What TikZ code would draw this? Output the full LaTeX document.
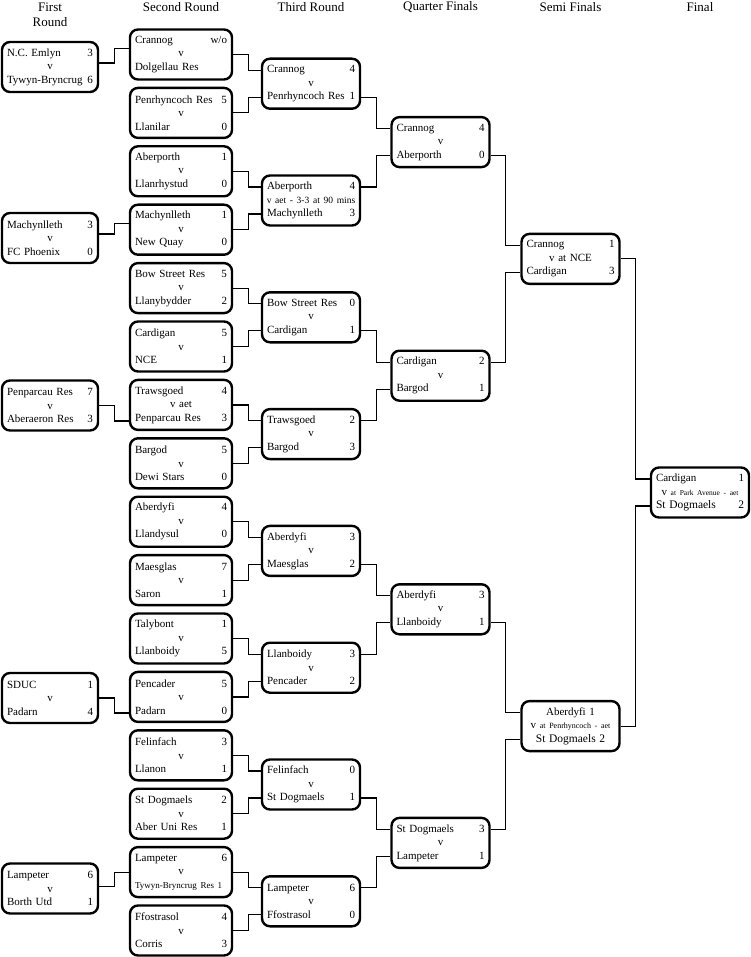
\documentclass[tikz,border=0pt]{standalone}
\usepackage{fontspec}
\setmainfont{Liberation Serif}
\usepackage{tikz}
\usetikzlibrary{calc}
\tikzstyle{tie} = [draw, line width=2.4pt, rounded corners=8pt, minimum height=50pt, inner xsep=5pt, inner ysep=0pt, text width=88pt, align=left, font=\fontsize{11}{13.5}\selectfont]
\tikzstyle{narrow} = [tie, text width=86pt]
\tikzstyle{wide} = [tie, text width=92pt]
\tikzstyle{link} = [line width=1.2pt]
\tikzstyle{heading} = [align=center, font=\fontsize{13}{15.5}\selectfont]
\newcommand{\fixture}[5]{#1\hfill#2\\\makebox[\linewidth]{#3}\\#4\hfill#5}

\begin{document}
\begin{tikzpicture}[x=1pt, y=-1pt]
\useasboundingbox (0,0) rectangle (750,957);

% round headings
\node[heading] (hfirst) at (50,15) {First\\Round};
\node[heading] (hsecond) at (181,7) {Second Round};
\node[heading] (hthird) at (311,7) {Third Round};
\node[heading] (hquarter) at (440.5,7) {Quarter Finals};
\node[heading] (hsemi) at (570.5,7) {Semi Finals};
\node[heading] (hfinal) at (700,7) {Final};

% first round
\node[narrow] (fr1) at (50,67) {\fixture{N.C. Emlyn}{3}{v}{Tywyn-Bryncrug}{6}};
\node[narrow] (fr2) at (50,238) {\fixture{Machynlleth}{3}{v}{FC Phoenix}{0}};
\node[narrow] (fr3) at (50,405.5) {\fixture{Penparcau Res}{7}{v}{Aberaeron Res}{3}};
\node[narrow] (fr4) at (50,698) {\fixture{SDUC}{1}{v}{Padarn}{4}};
\node[narrow] (fr5) at (50,888.5) {\fixture{Lampeter}{6}{v}{Borth Utd}{1}};

% second round
\node[wide] (sr1) at (181,54.5) {\fixture{Crannog}{w/o}{v}{Dolgellau Res}{}};
\node[wide] (sr2) at (181,112.9) {\fixture{Penrhyncoch Res}{5}{v}{Llanilar}{0}};
\node[wide] (sr3) at (181,171.3) {\fixture{Aberporth}{1}{v}{Llanrhystud}{0}};
\node[wide] (sr4) at (181,229.7) {\fixture{Machynlleth}{1}{v}{New Quay}{0}};
\node[wide] (sr5) at (181,288.1) {\fixture{Bow Street Res}{5}{v}{Llanybydder}{2}};
\node[wide] (sr6) at (181,346.5) {\fixture{Cardigan}{5}{v}{NCE}{1}};
\node[wide] (sr7) at (181,404.9) {\fixture{Trawsgoed}{4}{v aet}{Penparcau Res}{3}};
\node[wide] (sr8) at (181,463.3) {\fixture{Bargod}{5}{v}{Dewi Stars}{0}};
\node[wide] (sr9) at (181,521.7) {\fixture{Aberdyfi}{4}{v}{Llandysul}{0}};
\node[wide] (sr10) at (181,580.1) {\fixture{Maesglas}{7}{v}{Saron}{1}};
\node[wide] (sr11) at (181,638.5) {\fixture{Talybont}{1}{v}{Llanboidy}{5}};
\node[wide] (sr12) at (181,696.9) {\fixture{Pencader}{5}{v}{Padarn}{0}};
\node[wide] (sr13) at (181,755.3) {\fixture{Felinfach}{3}{v}{Llanon}{1}};
\node[wide] (sr14) at (181,813.7) {\fixture{St Dogmaels}{2}{v}{Aber Uni Res}{1}};
\node[wide] (sr15) at (181,872.1) {\fixture{Lampeter}{6}{v}{{\fontsize{9}{13.5}\selectfont Tywyn-Bryncrug Res 1}}{}};
\node[wide] (sr16) at (181,930.5) {\fixture{Ffostrasol}{4}{v}{Corris}{3}};

% third round
\node[tie] (tr1) at (311,83.7) {\fixture{Crannog}{4}{v}{Penrhyncoch Res}{1}};
\node[tie] (tr2) at (311,200.5) {\fixture{Aberporth}{4}{\fontsize{9.5}{13.5}\selectfont v aet - 3-3 at 90 mins}{Machynlleth}{3}};
\node[tie] (tr3) at (311,317.3) {\fixture{Bow Street Res}{0}{v}{Cardigan}{1}};
\node[tie] (tr4) at (311,434.1) {\fixture{Trawsgoed}{2}{v}{Bargod}{3}};
\node[tie] (tr5) at (311,550.9) {\fixture{Aberdyfi}{3}{v}{Maesglas}{2}};
\node[tie] (tr6) at (311,667.7) {\fixture{Llanboidy}{3}{v}{Pencader}{2}};
\node[tie] (tr7) at (311,784.5) {\fixture{Felinfach}{0}{v}{St Dogmaels}{1}};
\node[tie] (tr8) at (311,901.3) {\fixture{Lampeter}{6}{v}{Ffostrasol}{0}};

% quarter finals
\node[tie] (qf1) at (440.5,142.1) {\fixture{Crannog}{4}{v}{Aberporth}{0}};
\node[tie] (qf2) at (440.5,375.7) {\fixture{Cardigan}{2}{v}{Bargod}{1}};
\node[tie] (qf3) at (440.5,609.3) {\fixture{Aberdyfi}{3}{v}{Llanboidy}{1}};
\node[tie] (qf4) at (440.5,842.9) {\fixture{St Dogmaels}{3}{v}{Lampeter}{1}};

% semi finals
\node[tie] (sf1) at (570.5,258.9) {\fixture{Crannog}{1}{v at NCE}{Cardigan}{3}};
\node[tie, align=center] (sf2) at (570.5,726.1) {Aberdyfi 1\\v {\fontsize{8}{13.5}\selectfont at Penrhyncoch - aet}\\{\fontsize{11.5}{13.5}\selectfont St Dogmaels 2}};

% final
\node[tie] (fin) at (700,492.5) {\fixture{Cardigan}{1}{v {\fontsize{7.5}{13.5}\selectfont at Park Avenue - aet}}{{\fontsize{11.5}{13.5}\selectfont St Dogmaels}}{{\fontsize{11.5}{13.5}\selectfont 2}}};

% first round -> second round
\foreach \src/\sy/\dst/\ty in {fr1/-4/sr1/-6, fr2/-4/sr4/-6, fr3/0/sr7/16, fr4/0/sr12/16, fr5/-2/sr15/0}
  \draw[link] ($(\src.east)+(0,\sy)$) -- ++(15,0) |- ($(\dst.west)+(0,\ty)$);

% second round -> third round
\foreach \i [evaluate=\i as \a using int(2*\i-1), evaluate=\i as \b using int(2*\i)] in {1,...,8} {
  \draw[link] (sr\a.east) -- ++(15,0) |- ($(tr\i.west)+(0,-13.5)$);
  \draw[link] (sr\b.east) -- ++(15,0) |- ($(tr\i.west)+(0,13.5)$);
}

% third round -> quarter finals
\foreach \i [evaluate=\i as \a using int(2*\i-1), evaluate=\i as \b using int(2*\i)] in {1,...,4} {
  \draw[link] ($(tr\a.east)+(0,13.5)$) -- ++(15,0) |- ($(qf\i.west)+(0,-13.5)$);
  \draw[link] ($(tr\b.east)+(0,-13.5)$) -- ++(15,0) |- ($(qf\i.west)+(0,13.5)$);
}

% quarter finals -> semi finals
\foreach \i [evaluate=\i as \a using int(2*\i-1), evaluate=\i as \b using int(2*\i)] in {1,2} {
  \draw[link] ($(qf\a.east)+(0,13.5)$) -- ++(15,0) |- ($(sf\i.west)+(0,-13.5)$);
  \draw[link] ($(qf\b.east)+(0,-13.5)$) -- ++(15,0) |- ($(sf\i.west)+(0,13.5)$);
}

% semi finals -> final
\draw[link] (sf1.east) -- ++(15,0) |- ($(fin.west)+(0,-13.5)$);
\draw[link] (sf2.east) -- ++(15,0) |- ($(fin.west)+(0,13.5)$);
\end{tikzpicture}
\end{document}
